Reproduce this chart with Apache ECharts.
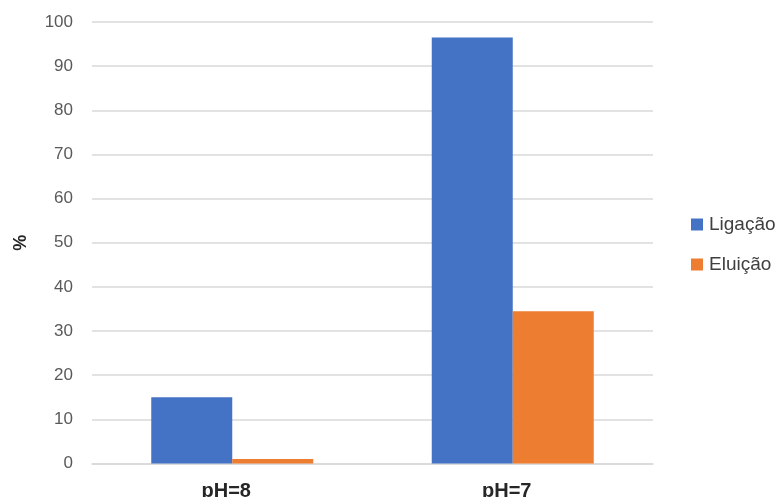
<!DOCTYPE html>
<html>
<head>
<meta charset="utf-8">
<script src="https://cdn.jsdelivr.net/npm/echarts@6/dist/echarts.min.js"></script>
<style>
  html, body { margin: 0; padding: 0; background: #fff; }
  #chart { width: 780px; height: 497px; }
</style>
</head>
<body>
<div id="chart"></div>
<script>
// Categories and series values (%)
const categories = ['pH=8', 'pH=7'];
const ligacao = [15, 96.5];
const eluicao = [1, 34.5];
const yTicks = { min: 0, max: 100, interval: 10 };

const FONT = '"Liberation Sans", "DejaVu Sans", sans-serif';

const chart = echarts.init(document.getElementById('chart'), null, { renderer: 'canvas' });

chart.setOption({
  backgroundColor: '#ffffff',
  animation: false,
  grid: { left: 92, right: 127, top: 22, bottom: 33.5, containLabel: false, outerBoundsMode: 'none' },
  legend: {
    orient: 'vertical',
    left: 691,
    top: 215,
    padding: 0,
    itemWidth: 12,
    itemHeight: 12,
    itemGap: 21,
    icon: 'rect',
    textStyle: { fontFamily: FONT, fontSize: 19, color: '#404040', padding: [0, 0, 0, 1] },
    data: ['Ligação', 'Eluição']
  },
  xAxis: {
    type: 'category',
    data: categories,
    axisLine: { show: true, lineStyle: { color: '#d9d9d9', width: 1.5 } },
    axisTick: { show: false },
    axisLabel: {
      fontFamily: FONT, fontSize: 20, fontWeight: 'bold', color: '#262626', margin: 18,
      padding: [0, 12, 0, 0]
    }
  },
  yAxis: {
    type: 'value',
    min: yTicks.min,
    max: yTicks.max,
    interval: yTicks.interval,
    name: '%',
    nameLocation: 'middle',
    nameRotate: 90,
    nameGap: 62,
    nameTextStyle: { fontFamily: FONT, fontSize: 18, fontWeight: 'bold', color: '#262626' },
    axisLine: { show: false },
    axisTick: { show: false },
    axisLabel: { fontFamily: FONT, fontSize: 17, color: '#595959', margin: 19 },
    splitLine: { lineStyle: { color: '#d9d9d9', width: 1.5 } }
  },
  series: [
    {
      name: 'Ligação',
      type: 'bar',
      data: ligacao,
      barWidth: 81,
      barGap: '0%',
      itemStyle: { color: '#4472C4' }
    },
    {
      name: 'Eluição',
      type: 'bar',
      data: eluicao,
      barWidth: 81,
      barGap: '0%',
      itemStyle: { color: '#ED7D31' }
    }
  ]
});
</script>
</body>
</html>
